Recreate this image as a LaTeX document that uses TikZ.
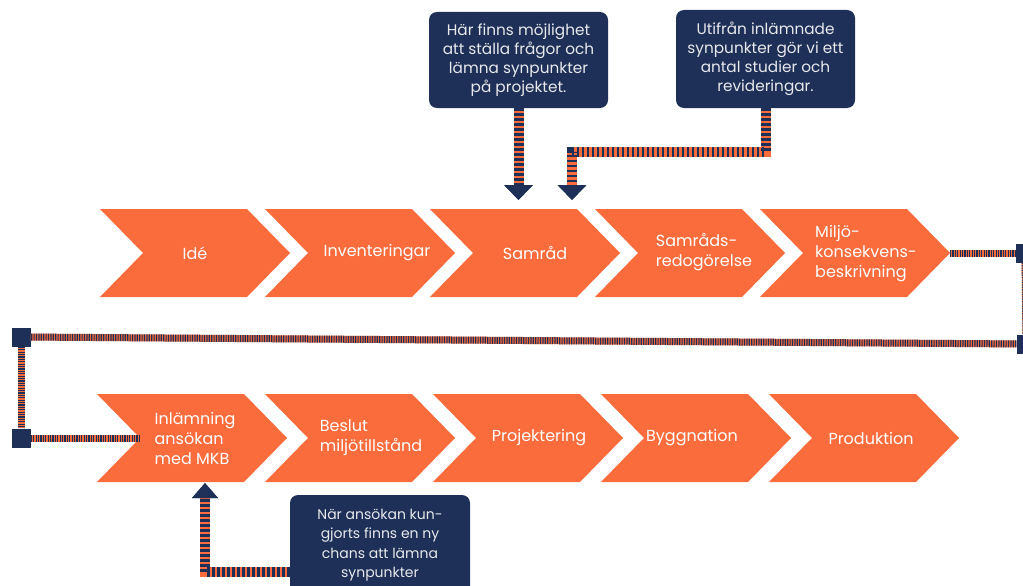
\documentclass[tikz,border=0pt]{standalone}
\usepackage{fontspec}
\setmainfont{Poppins}
\usetikzlibrary{arrows.meta}
\definecolor{stegorange}{RGB}{250,108,60}
\definecolor{infonavy}{RGB}{30,48,88}
\definecolor{infotext}{RGB}{232,232,236}

\begin{document}
\begin{tikzpicture}[x=1pt,y=-1pt,
    steg/.style={fill=stegorange},
    stegtext/.style={text=white,font=\fontsize{16}{20}\selectfont,align=left,inner sep=0pt},
    infobox/.style={fill=infonavy,rounded corners=8pt,text=infotext,align=center,
                    font=\fontsize{15.3}{19}\selectfont,minimum width=179pt,inner sep=0pt},
    fasta/.style={rectangle,fill=infonavy,minimum size=19pt,inner sep=0pt},
    randpil/.style={draw=stegorange,line width=10pt,
        postaction={draw=infonavy,line width=10pt,dash pattern=on 2.5pt off 2.5pt}},
    randlinje/.style={draw=stegorange,line width=7pt,
        postaction={draw=infonavy,line width=7pt,dash pattern=on 1.2pt off 1.2pt}}]

\useasboundingbox (0,0) rectangle (1023,586);
\begin{scope}
\clip (0,0) rectangle (1023,586);

% chevrons, top row
\foreach \i in {0,...,4}{
  \pgfmathsetmacro{\xa}{100+165*\i}
  \fill[steg] (\xa,209) -- ++(147,0) -- ++(43,44) -- ++(-43,44) -- ++(-147,0) -- ++(43,-44) -- cycle;
  \coordinate (ovrespets\i) at (\xa+190,253);
  \coordinate (ovreskara\i) at (\xa+43,253);
}
% chevrons, bottom row
\foreach \i in {0,...,4}{
  \pgfmathsetmacro{\xa}{97+168*\i}
  \fill[steg] (\xa,394) -- ++(147,0) -- ++(43,44) -- ++(-43,44) -- ++(-147,0) -- ++(43,-44) -- cycle;
  \coordinate (nedrespets\i) at (\xa+190,438);
  \coordinate (nedreskara\i) at (\xa+43,438);
}

\node[stegtext] (ide) at (195,253) {Idé};
\node[stegtext] (inv) at (377,253) {Inventeringar};
\node[stegtext] (samrad) at (535,253) {Samråd};
\node[stegtext] (redog) at (704,252) {Samråds-\\redogörelse};
\node[stegtext] (mkb) at (866,254) {Miljö-\\konsekvens-\\beskrivning};

\node[stegtext] (inlam) at (195,438) {Inlämning\\ansökan\\med MKB};
\node[stegtext] (beslut) at (371,438) {Beslut\\miljötillstånd};
\node[stegtext] (proj) at (539,438) {Projektering};
\node[stegtext] (bygg) at (692,438) {Byggnation};
\node[stegtext] (prod) at (871,438) {Produktion};

% info boxes
\node[infobox,minimum height=96pt] (fragor) at (518.5,60)
  {Här finns möjlighet\\att ställa frågor och\\lämna synpunkter\\på projektet.};
\node[infobox,minimum height=98pt] (studier) at (765.5,59)
  {Utifrån inlämnade\\synpunkter gör vi ett\\antal studier och\\revideringar.};
\node[infobox,minimum height=100pt,minimum width=180pt,font=\fontsize{14}{19.5}\selectfont] (kungjort) at (380,545)
  {När ansökan kun-\\gjorts finns en ny\\chans att lämna\\synpunkter};

% squares
\node[fasta] (hogerA) at (1025,253) {};
\node[fasta] (hogerB) at (1026,344) {};
\node[fasta] (vansterA) at (21,337) {};
\node[fasta] (vansterB) at (21,438) {};

\draw[randlinje] (ovrespets4) -- (hogerA);
\draw[randlinje] (hogerA) -- (hogerB);
\draw[randlinje] (hogerB) -- (vansterA);
\draw[randlinje] (vansterA) -- (vansterB);
\draw[randlinje] (vansterB) -- (nedreskara0);

% arrows from the boxes
\coordinate (samradA) at (518.5,200);
\coordinate (knack) at (572,152);
\coordinate (samradB) at (572,200);
\coordinate (horn) at (205,572);
\coordinate (inlamB) at (205,483);
\draw[randpil,-{Triangle[width=28pt,length=15pt,color=infonavy]}] (fragor.south) -- (samradA);
\draw[randpil,-{Triangle[width=28pt,length=15pt,color=infonavy]}] (studier.south) |- (knack) -- (samradB);
\draw[randpil,-{Triangle[width=25pt,length=15pt,color=infonavy]}] (kungjort.west |- horn) -- (horn) -- (inlamB);
\end{scope}
\end{tikzpicture}
\end{document}
